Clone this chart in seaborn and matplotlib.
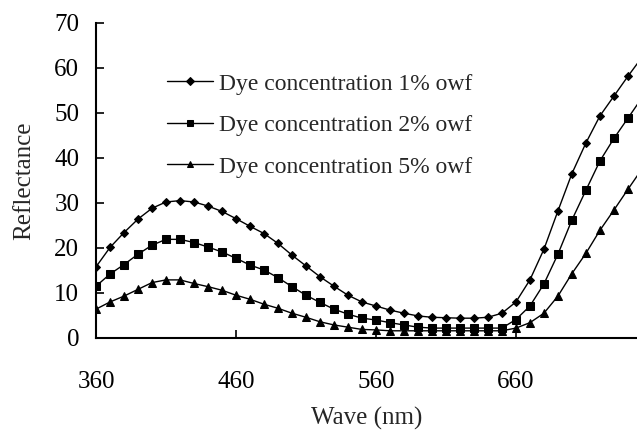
import matplotlib
matplotlib.use("Agg")
import matplotlib.pyplot as plt
import seaborn as sns
import pandas as pd

wave = list(range(360, 760, 10))
r1 = [15.8, 20.1, 23.4, 26.4, 28.8, 30.2, 30.5, 30.2, 29.3, 28.1,
      26.5, 24.8, 23.2, 21.0, 18.4, 16.0, 13.6, 11.5, 9.5, 8.0,
      7.1, 6.2, 5.5, 4.9, 4.6, 4.5, 4.4, 4.4, 4.6, 5.5,
      8.0, 12.9, 19.7, 28.2, 36.5, 43.3, 49.3, 53.7, 58.1, 62.3]
r2 = [11.5, 14.2, 16.3, 18.6, 20.6, 21.9, 21.9, 21.2, 20.2, 19.1,
      17.7, 16.2, 15.1, 13.4, 11.4, 9.5, 7.9, 6.4, 5.3, 4.4,
      4.0, 3.4, 2.9, 2.4, 2.2, 2.2, 2.2, 2.2, 2.2, 2.2,
      4.1, 7.1, 12.0, 18.6, 26.2, 32.8, 39.3, 44.3, 48.8, 53.3]
r5 = [6.4, 8.0, 9.3, 10.8, 12.3, 12.9, 12.9, 12.1, 11.4, 10.6,
      9.5, 8.6, 7.5, 6.6, 5.5, 4.6, 3.6, 2.9, 2.4, 1.9,
      1.8, 1.6, 1.6, 1.6, 1.6, 1.6, 1.6, 1.6, 1.6, 1.6,
      2.2, 3.4, 5.5, 9.3, 14.3, 18.8, 23.9, 28.4, 33.0, 37.5]
labels = ["Dye concentration 1% owf", "Dye concentration 2% owf", "Dye concentration 5% owf"]
xticks = [360, 460, 560, 660]
yticks = [0, 10, 20, 30, 40, 50, 60, 70]

df = pd.DataFrame({
    "wave": wave * 3,
    "refl": r1 + r2 + r5,
    "series": [labels[0]] * len(wave) + [labels[1]] * len(wave) + [labels[2]] * len(wave),
})

sns.set_style("white")
plt.rcParams["font.family"] = ["Liberation Serif", "DejaVu Serif"]

fig = plt.figure(figsize=(6.37, 4.37), dpi=100)
ax = fig.add_axes([96 / 637, 1 - 338 / 437, (637 - 96) / 637, (338 - 22.7) / 437])

sns.lineplot(data=df, x="wave", y="refl", hue="series", style="series",
             palette=["black"] * 3, markers=["D", "s", "^"], dashes=False,
             markersize=5, linewidth=1.0, markeredgecolor="black", ax=ax)

msizes = [4.5, 5.5, 5.5]
for line, ms in zip(ax.lines[:3], msizes):
    line.set_markersize(ms)

ax.set_xlim(360, 746.5)
ax.set_ylim(0, 70)
ax.set_xticks(xticks)
ax.set_yticks(yticks)
ax.tick_params(axis="both", direction="in", length=6, width=1.2, colors="black",
               labelsize=18, left=True, bottom=True)
ax.tick_params(axis="y", pad=12)
ax.tick_params(axis="x", pad=24)
for s in ["top", "right"]:
    ax.spines[s].set_visible(False)
for s in ["left", "bottom"]:
    ax.spines[s].set_color("black")
    ax.spines[s].set_linewidth(1.5)

ax.set_xlabel("Wave (nm)", fontsize=18, labelpad=10)
ax.set_ylabel("Reflectance", fontsize=18, labelpad=14)

handles, labs = ax.get_legend_handles_labels()
ax.legend(handles, labs, loc="upper left", bbox_to_anchor=(167 / 637, 1 - 73 / 437),
          bbox_transform=fig.transFigure, frameon=False, fontsize=17,
          borderpad=0, borderaxespad=0, handlelength=1.95, handletextpad=0.25,
          labelspacing=0.85, markerscale=0.75)

fig.savefig("out.png", dpi=100)
